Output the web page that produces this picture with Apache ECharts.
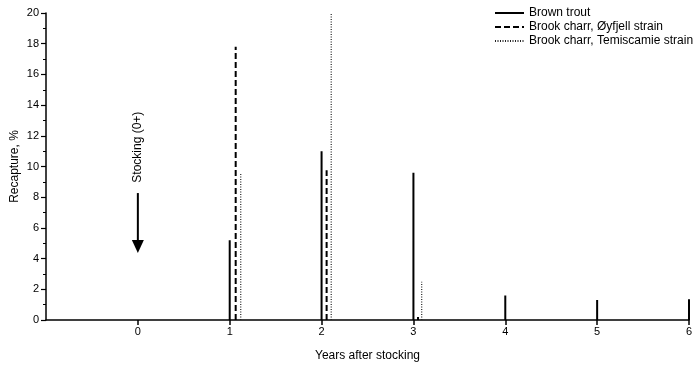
<!DOCTYPE html>
<html><head><meta charset="utf-8">
<script src="https://cdn.jsdelivr.net/npm/echarts@6/dist/echarts.min.js"></script>
<style>html,body{margin:0;padding:0;background:#fff}#c{width:700px;height:366px}</style>
</head><body><div id="c"></div>
<script>
// Data (x = years after stocking, y = recapture %)
var seriesNames = ['Brown trout', 'Brook charr, Øyfjell strain', 'Brook charr, Temiscamie strain'];
var brownX = [1, 2, 3, 4, 5, 6];
var brownY = [5.2, 11.0, 9.6, 1.6, 1.3, 1.35];
var oyfjellX = [1.065, 2.055, 3.05];
var oyfjellY = [17.8, 9.75, 0.2];
var temiX = [1.12, 2.105, 3.09];
var temiY = [9.6, 20, 2.5];
var xTicks = [0, 1, 2, 3, 4, 5, 6];
var yTicks = [0, 2, 4, 6, 8, 10, 12, 14, 16, 18, 20];
var annotation = {x: 0, textTop: 13.6, lineTop: 8.27, tip: 4.36, text: 'Stocking (0+)'};

function spikes(xs, ys) {
  var d = [];
  for (var i = 0; i < xs.length; i++) {
    d.push([xs[i], 0]); d.push([xs[i], ys[i]]); d.push('-');
  }
  return d;
}
var font = 'Liberation Sans, Arial, sans-serif';
var chart = echarts.init(document.getElementById('c'));
chart.setOption({
  animation: false,
  backgroundColor: '#fff',
  textStyle: {fontFamily: font, color: '#000'},
  grid: {left: 46, right: 11, top: 13, bottom: 46, outerBoundsMode: 'none', containLabel: false},
  legend: {
    orient: 'vertical', left: 489, top: 2, itemWidth: 29, itemHeight: 10, itemGap: 2,
    itemStyle: {opacity: 0},
    textStyle: {fontFamily: font, fontSize: 12, color: '#000'},
    data: seriesNames
  },
  xAxis: {
    type: 'value', min: -1, max: 6, interval: 1,
    name: 'Years after stocking', nameLocation: 'middle', nameGap: 30,
    nameTextStyle: {fontSize: 12, color: '#000', fontFamily: font},
    axisLine: {show: true, onZero: false, lineStyle: {color: '#000', width: 1.5}},
    axisTick: {show: true, length: 5, lineStyle: {color: '#000', width: 1.5},
      customValues: xTicks},
    axisLabel: {color: '#000', fontSize: 11, margin: 6, fontFamily: font,
      customValues: xTicks},
    splitLine: {show: false}
  },
  yAxis: {
    type: 'value', min: 0, max: 20, interval: 2,
    name: 'Recapture, %', nameLocation: 'middle', nameGap: 25, nameRotate: 90,
    nameMoveOverlap: false,
    nameTextStyle: {fontSize: 12, color: '#000', fontFamily: font},
    axisLine: {show: true, onZero: false, lineStyle: {color: '#000', width: 1.5}},
    axisTick: {show: true, inside: false, length: 5, lineStyle: {color: '#000', width: 1.2}},
    minorTick: {show: true, splitNumber: 2, length: 3, lineStyle: {color: '#000', width: 1}},
    axisLabel: {color: '#000', fontSize: 11, margin: 7, fontFamily: font,
      formatter: function (v) { return yTicks.indexOf(v) >= 0 ? String(v) : ''; }},
    splitLine: {show: false}
  },
  series: [
    {name: seriesNames[0], type: 'line', symbol: 'none', connectNulls: false,
      lineStyle: {color: '#000', width: 2, type: 'solid'}, itemStyle: {color: '#000'},
      data: spikes(brownX, brownY)},
    {name: seriesNames[1], type: 'line', symbol: 'none', connectNulls: false,
      lineStyle: {color: '#000', width: 2, type: [6, 3]}, itemStyle: {color: '#000'},
      data: spikes(oyfjellX, oyfjellY)},
    {name: seriesNames[2], type: 'line', symbol: 'none', connectNulls: false,
      lineStyle: {color: '#222', width: 1.2, type: [1, 1.5]}, itemStyle: {color: '#222'},
      data: spikes(temiX, temiY)},
    {type: 'custom', silent: true, data: [[annotation.x, annotation.tip]],
      renderItem: function (params, api) {
        var top = api.coord([annotation.x, annotation.textTop]);
        var lt = api.coord([annotation.x, annotation.lineTop]);
        var tip = api.coord([annotation.x, annotation.tip]);
        var hw = 6, hh = 13;
        return {type: 'group', children: [
          {type: 'line', shape: {x1: lt[0], y1: lt[1], x2: tip[0], y2: tip[1] - hh + 2},
            style: {stroke: '#000', lineWidth: 2}},
          {type: 'polygon', shape: {points: [[tip[0] - hw, tip[1] - hh], [tip[0] + hw, tip[1] - hh], [tip[0], tip[1]]]},
            style: {fill: '#000'}},
          {type: 'text', x: top[0], y: (top[1] + lt[1]) / 2 - 5, rotation: Math.PI / 2,
            style: {text: annotation.text, fontSize: 12, fontFamily: font, fill: '#000',
              align: 'center', verticalAlign: 'middle'}}
        ]};
      }}
  ]
});
</script></body></html>
